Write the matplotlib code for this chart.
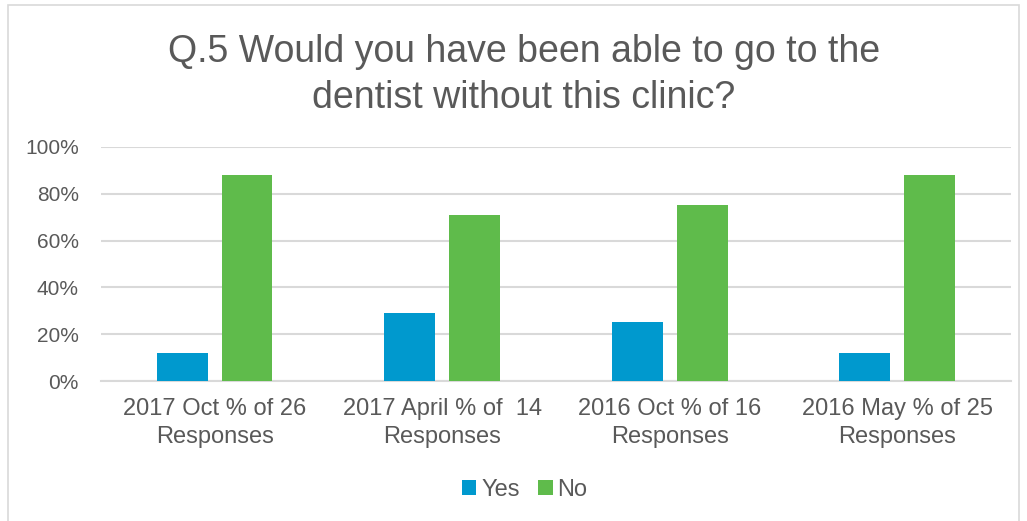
import numpy as np
import matplotlib.pyplot as plt
from matplotlib.patches import Rectangle
from matplotlib.ticker import PercentFormatter

plt.rcParams["font.family"] = ["Liberation Sans", "DejaVu Sans"]

categories = ["2017 Oct % of 26\nResponses", "2017 April % of  14\nResponses",
              "2016 Oct % of 16\nResponses", "2016 May % of 25\nResponses"]
yes_vals = [12, 29, 25, 12]
no_vals = [88, 71, 75, 88]

YES_COLOR = "#0099CE"
NO_COLOR = "#5FBB4B"
TEXT = "#595959"
GRID = "#D9D9D9"

fig = plt.figure(figsize=(10.27, 5.21), dpi=100)
ax = fig.add_axes([0.0983, 0.2687, 0.8861, 0.4492])

x = np.arange(len(categories))
w = 0.224
off = 0.142
ax.bar(x - off, yes_vals, w, color=YES_COLOR, label="Yes", zorder=3)
ax.bar(x + off, no_vals, w, color=NO_COLOR, label="No", zorder=3)

ax.set_xlim(-0.5, len(categories) - 0.5)
ax.set_ylim(0, 100)
ax.set_yticks(np.arange(0, 101, 20))
ax.yaxis.set_major_formatter(PercentFormatter(decimals=0))
ax.set_xticks(x)
ax.set_xticklabels(categories)
ax.grid(axis="y", color=GRID, linewidth=1.5, zorder=0)
for s in ["top", "right", "left"]:
    ax.spines[s].set_visible(False)
ax.spines["bottom"].set_color(GRID)
ax.spines["bottom"].set_linewidth(1.5)
ax.tick_params(axis="both", length=0, labelcolor=TEXT)
ax.tick_params(axis="y", labelsize=15, pad=16)
ax.tick_params(axis="x", labelsize=17, pad=12)
for lbl in ax.get_xticklabels():
    lbl.set_linespacing(1.38)

fig.text(0.51, 0.856, "Q.5 Would you have been able to go to the\ndentist without this clinic?",
         ha="center", va="center", fontsize=27, color=TEXT, linespacing=1.35)

fig.legend(loc="center", bbox_to_anchor=(0.511, 0.06), ncol=2, frameon=False,
           fontsize=17, handlelength=0.6, handleheight=0.6, handletextpad=0.2,
           columnspacing=0.8, labelcolor=TEXT)

fig.patches.append(Rectangle((0.008, -0.01), 0.984, 1.0, transform=fig.transFigure,
                             fill=False, edgecolor=GRID, linewidth=1.2))

fig.savefig("out.png", dpi=100)
